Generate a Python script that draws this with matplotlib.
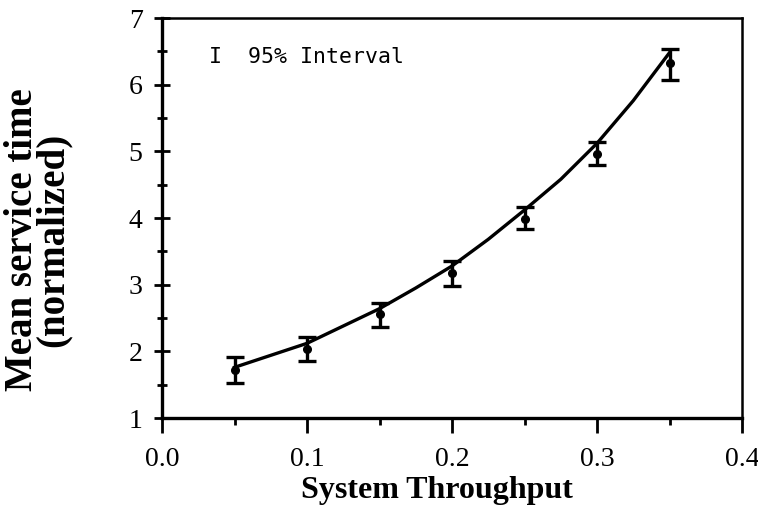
import matplotlib
matplotlib.use("Agg")
import matplotlib.pyplot as plt
from matplotlib.ticker import MultipleLocator, FormatStrFormatter

# Measured service time at each throughput level, with 95% interval bounds
throughput = [0.05, 0.10, 0.15, 0.20, 0.25, 0.30, 0.35]
mean_time = [1.72, 2.04, 2.56, 3.17, 3.98, 4.96, 6.32]
upper_bound = [1.92, 2.21, 2.73, 3.36, 4.16, 5.14, 6.54]
lower_bound = [1.53, 1.85, 2.37, 2.98, 3.83, 4.79, 6.07]

# Model curve
model_x = [0.05, 0.075, 0.10, 0.125, 0.15, 0.175, 0.20, 0.225, 0.25, 0.275, 0.30, 0.325, 0.35]
model_y = [1.76, 1.94, 2.12, 2.38, 2.64, 2.95, 3.28, 3.68, 4.12, 4.58, 5.12, 5.76, 6.48]

serif = "Liberation Serif"

fig = plt.figure(figsize=(7.58, 5.14), dpi=100)
ax = fig.add_axes([162 / 758, 1 - 418 / 514, 580 / 758, 400 / 514])

err_low = [m - lo for m, lo in zip(mean_time, lower_bound)]
err_high = [hi - m for m, hi in zip(mean_time, upper_bound)]
ax.errorbar(throughput, mean_time, yerr=[err_low, err_high], fmt="o",
            color="black", markersize=5.5, elinewidth=2.4, capsize=6.5,
            capthick=2.4, zorder=3)
ax.plot(model_x, model_y, color="black", linewidth=2.4, zorder=2)

ax.set_xlim(0.0, 0.4)
ax.set_ylim(1, 7)
ax.xaxis.set_major_locator(MultipleLocator(0.1))
ax.xaxis.set_minor_locator(MultipleLocator(0.05))
ax.yaxis.set_major_locator(MultipleLocator(1))
ax.yaxis.set_minor_locator(MultipleLocator(0.5))
ax.xaxis.set_major_formatter(FormatStrFormatter("%.1f"))

for side in ("left", "bottom"):
    ax.spines[side].set_linewidth(2.4)
for side in ("top", "right"):
    ax.spines[side].set_linewidth(1.8)

ax.tick_params(axis="y", which="major", direction="inout", length=12, width=2,
               pad=8, labelsize=20)
ax.tick_params(axis="y", which="minor", direction="inout", length=7, width=2)
ax.tick_params(axis="x", which="major", direction="out", length=11, width=2,
               pad=10, labelsize=20)
ax.tick_params(axis="x", which="minor", direction="out", length=5, width=2)
for lab in ax.get_xticklabels() + ax.get_yticklabels():
    lab.set_fontfamily(serif)

ax.set_xlabel("System Throughput", fontfamily=serif, fontweight="bold",
              fontsize=23, labelpad=0)
ax.xaxis.set_label_coords((437 - 162) / 580, -0.145)
ax.set_ylabel("Mean service time\n(normalized)", fontfamily=serif,
              fontweight="bold", fontsize=28, linespacing=0.78)
ax.yaxis.set_label_coords(-(162 - 72) / 580, (418 - 240) / 400)

ax.text(209 / 758, 1 - 63 / 514, "I  95% Interval", transform=fig.transFigure,
        fontfamily="DejaVu Sans Mono", fontsize=15.5, color="black",
        ha="left", va="baseline")

fig.savefig("out.png", dpi=100)
